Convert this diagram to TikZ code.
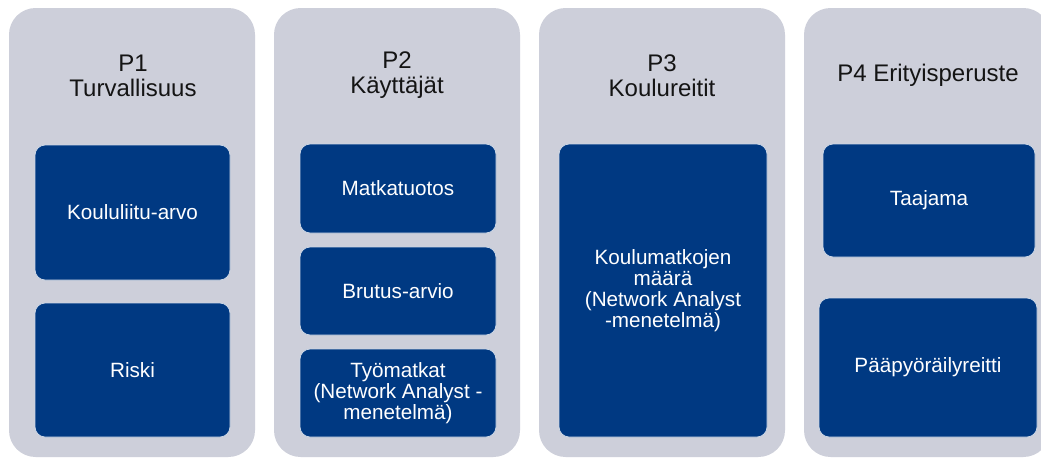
\documentclass[tikz,border=0pt]{standalone}
\usepackage{fontspec}
\setmainfont{Liberation Sans}
\newlength\px
\setlength\px{0.75pt}
\definecolor{colgray}{RGB}{205,207,218}
\definecolor{boxblue}{RGB}{0,57,130}
\definecolor{titletext}{RGB}{20,20,20}
\begin{document}
\begin{tikzpicture}[x=0.75pt,y=-0.75pt,
  column/.style={fill=colgray, draw=none, rounded corners=20pt, minimum width=246\px, minimum height=449\px, inner sep=0pt},
  title/.style={text=titletext, font=\fontsize{18}{18.75}\selectfont, align=center, inner sep=0pt},
  bluebox/.style={fill=boxblue, draw=white!80!boxblue, line width=0.6pt, rounded corners=7.5pt, text=white, font=\fontsize{15.5}{15.75}\selectfont, align=center, inner sep=0pt}]
\clip (0,0) rectangle (1041,458);
\fill[white] (0,0) rectangle (1041,458);
% columns
\node[column] (c1) at (132,232.5) {};
\node[column] (c2) at (397,232.5) {};
\node[column] (c3) at (662,232.5) {};
\node[column] (c4) at (927,232.5) {};
% titles
\node[title] (t1) at (133,75.5) {P1\\Turvallisuus};
\node[title] (t2) at (397,75.5) {P2\\Käyttäjät};
\node[title] (t3) at (662,75.5) {P3\\Koulureitit};
\node[title] (t4) at (928,75) {P4 Erityisperuste};
% column 1
\node[bluebox, minimum width=195\px, minimum height=135\px] (b11) at (132.5,212.5) {Koululiitu-arvo};
\node[bluebox, minimum width=195\px, minimum height=134\px] (b12) at (132.5,370) {Riski};
% column 2
\node[bluebox, minimum width=196\px, minimum height=89\px] (b21) at (398,188.5) {Matkatuotos};
\node[bluebox, minimum width=196\px, minimum height=88\px] (b22) at (398,291) {Brutus-arvio};
\node[bluebox, minimum width=196\px, minimum height=88\px] (b23) at (398,393) {Työmatkat\\(Network Analyst -\\menetelmä)};
% column 3
\node[bluebox, minimum width=208\px, minimum height=293\px] (b31) at (663,290.5) {Koulumatkojen\\määrä\\(Network Analyst\\-menetelmä)};
% column 4
\node[bluebox, minimum width=212\px, minimum height=113\px] (b41) at (929,200.5) {Taajama};
\node[bluebox, minimum width=218\px, minimum height=139\px] (b42) at (928,367.5) {Pääpyöräilyreitti};
\end{tikzpicture}
\end{document}
